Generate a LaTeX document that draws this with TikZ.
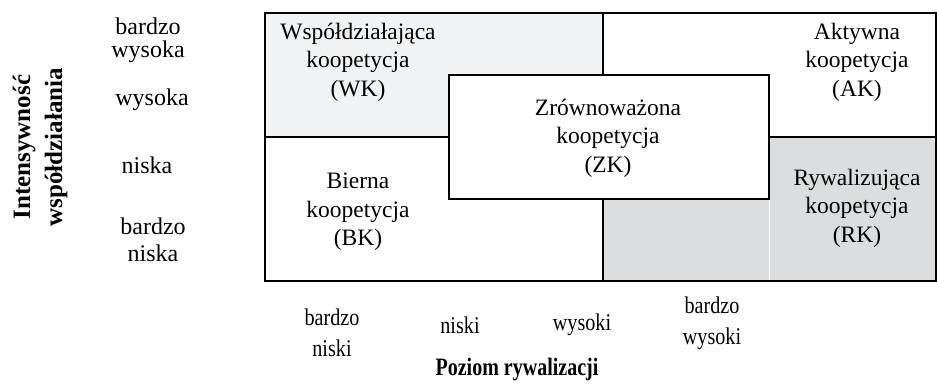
\documentclass[tikz,border=0pt]{standalone}
\usepackage{fontspec}
\setmainfont{Liberation Serif}
\usetikzlibrary{positioning}
\definecolor{lightcell}{RGB}{241,242,243}
\definecolor{darkcell}{RGB}{220,221,222}
\tikzset{
  lbl/.style={align=center, font=\fontsize{23.5}{28.5}\selectfont, inner sep=0pt},
  axlbl/.style={align=center, font=\fontsize{24}{23}\selectfont, inner sep=0pt},
  botlbl/.style={align=center, font=\fontsize{24}{31}\selectfont, inner sep=0pt, xscale=.84},
  ttl/.style={align=center, font=\fontsize{25}{32}\selectfont\bfseries, inner sep=0pt},
  cellline/.style={line width=1.2pt}
}

\begin{document}
\begin{tikzpicture}[x=1pt,y=-1pt]
	\useasboundingbox (0,0) rectangle (937,389);
	\coordinate (TL) at (265,13);
	\coordinate (BR) at (936,281);
	\coordinate (MT) at (603,13);
	\coordinate (MB) at (603,281);
	\coordinate (ML) at (265,137);
	\coordinate (MR) at (936,137);
	% shaded cells
	\fill[lightcell] (TL) rectangle (ML -| MT);
	\fill[darkcell] (ML -| MT) rectangle (BR);
	\draw[white, line width=.8pt] (769,137) -- (769,281);
	\draw[cellline] (TL) rectangle (BR);
	\draw[cellline] (MT) -- (MB);
	\draw[cellline] (ML) -- (MR);
	% centre box
	\draw[cellline, fill=white] (449,75) rectangle (769,199);
	\node[lbl] (WK) at (358,62) {Współdziałająca\\koopetycja\\(WK)};
	\node[lbl] (BK) at (358,212) {Bierna\\koopetycja\\(BK)};
	\node[lbl] (ZK) at (608,138) {Zrównoważona\\koopetycja\\(ZK)};
	\node[lbl] (AK) at (857,62) {Aktywna\\koopetycja\\(AK)};
	\node[lbl] (RK) at (857,208) {Rywalizująca\\koopetycja\\(RK)};
	% vertical axis
	\node[axlbl] (y4) at (148,40) {bardzo\\wysoka};
	\node[axlbl] (y3) at (152,100) {wysoka};
	\node[axlbl] (y2) at (147,165) {niska};
	\node[axlbl, font=\fontsize{24}{27}\selectfont] (y1) at (153,240) {bardzo\\niska};
	\node[ttl, rotate=90] (ytitle) at (40,147) {Intensywność\\współdziałania};
	% horizontal axis
	\node[botlbl] (x1) at (332,333) {bardzo\\niski};
	\node[botlbl] (x2) at (460,325) {niski};
	\node[botlbl] (x3) at (582,325) {wysoki};
	\node[botlbl] (x4) at (712,323) {bardzo\\wysoki};
	\node[ttl, xscale=.8] (xtitle) at (517,370) {Poziom rywalizacji};
\end{tikzpicture}
\end{document}
